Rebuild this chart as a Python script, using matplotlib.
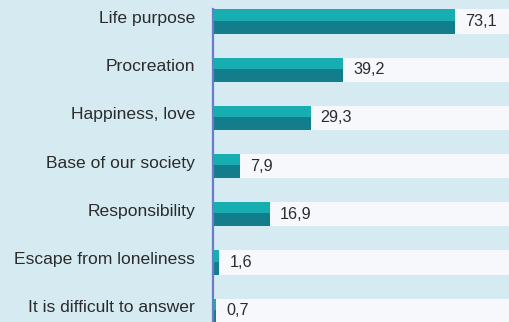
import matplotlib
matplotlib.use("Agg")
import matplotlib.pyplot as plt
import matplotlib.transforms as mtransforms

categories = ["Life purpose", "Procreation", "Happiness, love", "Base of our society",
              "Responsibility", "Escape from loneliness", "It is difficult to answer"]
values = [73.1, 39.2, 29.3, 7.9, 16.9, 1.6, 0.7]
value_labels = ["73,1", "39,2", "29,3", "7,9", "16,9", "1,6", "0,7"]

BG = "#d5ebf1"
TRACK = "#f6f8fb"
TEAL_LIGHT = "#17aeb1"
TEAL_DARK = "#137d8b"
AXIS = "#6b7cc4"
TEXT = "#2b2b2b"

plt.rcParams["font.family"] = ["Liberation Sans", "DejaVu Sans"]

W, H, DPI = 510, 322, 100
fig = plt.figure(figsize=(W / DPI, H / DPI), dpi=DPI, facecolor=BG)

left_px = 213
ax = fig.add_axes([left_px / W, 0, 1 - left_px / W, 1])
ax.set_facecolor(BG)

# row centres in pixels: 21.5 + 48.2 * i
row0, step = 21.5, 48.2
ytop = -row0 / step
ybot = (H - row0) / step
xmax = 90.0
ax.set_xlim(0, xmax)
ax.set_ylim(ybot, ytop)

ys = list(range(len(categories)))
bar_h = 0.5

# light background track behind every bar
ax.barh(ys, [xmax] * len(ys), height=bar_h, color=TRACK, zorder=1, left=0,
        linewidth=0)
# full bar in the dark shade, upper half overdrawn in the light shade
ax.barh(ys, values, height=bar_h, color=TEAL_DARK, zorder=2, left=0.3,
        linewidth=0)
ax.barh([y - bar_h / 4 - 0.01 for y in ys], values, height=bar_h / 2 - 0.02,
        color=TEAL_LIGHT, zorder=3, left=0.3, linewidth=0)

for y, v, lab in zip(ys, values, value_labels):
    ax.annotate(lab, xy=(v + 0.3, y), xytext=(10, 0), textcoords="offset pixels",
                ha="left", va="center", fontsize=11.6, color=TEXT, zorder=4)

lab_off = mtransforms.offset_copy(ax.transData, fig=fig, x=-18, y=3, units="dots")
for y, c in zip(ys, categories):
    ax.text(0, y, c, transform=lab_off, ha="right", va="center",
            fontsize=12.6, color=TEXT, clip_on=False)

for s in ["top", "right", "bottom"]:
    ax.spines[s].set_visible(False)
ax.spines["left"].set_color(AXIS)
ax.spines["left"].set_linewidth(1.6)
ax.spines["left"].set_bounds(ybot, -bar_h / 2)
ax.set_xticks([])
ax.set_yticks([])

fig.savefig("out.png", dpi=DPI, facecolor=BG)
